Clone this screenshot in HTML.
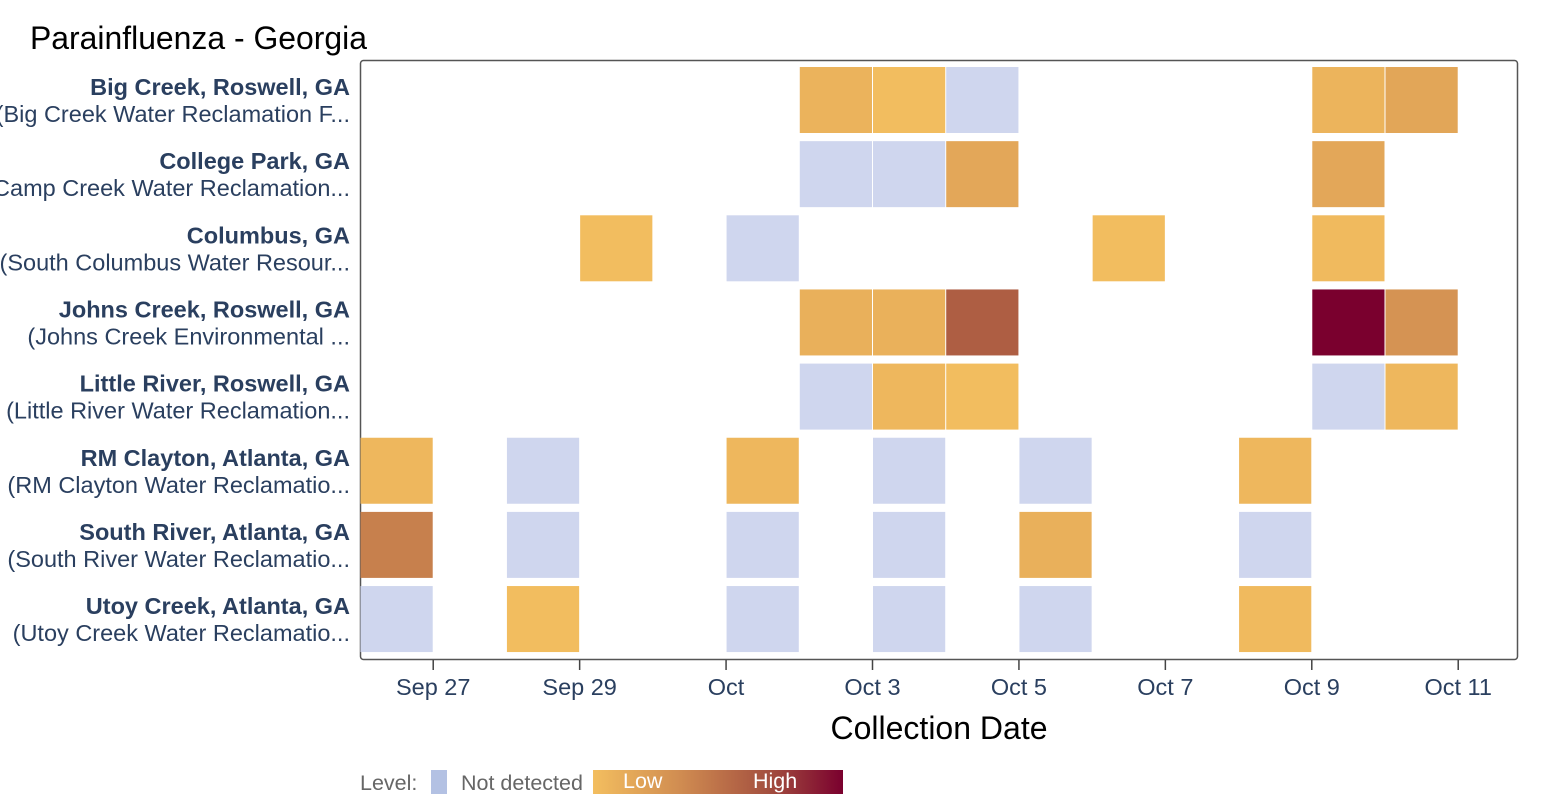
<!DOCTYPE html>
<html><head><meta charset="utf-8"><style>
html,body{margin:0;padding:0;background:#fff;}
svg{display:block;font-family:"Liberation Sans",Arial,sans-serif;}
</style></head><body>
<svg id="chart" width="1558" height="808" viewBox="0 0 1558 808">
<defs><linearGradient id="grad" x1="0" x2="1" y1="0" y2="0">
<stop offset="0" stop-color="#f3be5f"/><stop offset="0.35" stop-color="#d08c51"/><stop offset="0.7" stop-color="#a4503f"/><stop offset="1" stop-color="#7a002e"/></linearGradient></defs>
<text x="30" y="49" font-size="32" fill="#000" textLength="337" lengthAdjust="spacingAndGlyphs">Parainfluenza - Georgia</text>
<g id="rowlabels"></g>
<rect x="360.5" y="60.5" width="1157" height="599" rx="3" fill="#fff" stroke="#555" stroke-width="1.5"/>
<g id="cells"></g>
<g id="xaxis"></g>
<text x="939" y="739" font-size="32" text-anchor="middle" fill="#000">Collection Date</text>
<g>
<text x="360" y="790" font-size="21.5" fill="#666">Level:</text>
<rect x="431" y="770" width="16" height="24" fill="#b3c1e3"/>
<text x="461" y="790" font-size="21.5" fill="#666">Not detected</text>
<rect x="593" y="770" width="250" height="24" fill="url(#grad)"/>
<text x="623" y="788" font-size="21.5" fill="#fff">Low</text>
<text x="753" y="788" font-size="21.5" fill="#fff">High</text>
</g>
</svg>
<script>
const sites = ["Big Creek, Roswell, GA","College Park, GA","Columbus, GA","Johns Creek, Roswell, GA","Little River, Roswell, GA","RM Clayton, Atlanta, GA","South River, Atlanta, GA","Utoy Creek, Atlanta, GA"];
const facilities = ["(Big Creek Water Reclamation F...","(Camp Creek Water Reclamation...","(South Columbus Water Resour...","(Johns Creek Environmental ...","(Little River Water Reclamation...","(RM Clayton Water Reclamatio...","(South River Water Reclamatio...","(Utoy Creek Water Reclamatio..."];
// day offsets from Sep 26 (cell spans day..day+1); value -1 = not detected, 0..1 = level
const cellRow = [0,0,0,0,0, 1,1,1,1, 2,2,2,2, 3,3,3,3,3, 4,4,4,4,4, 5,5,5,5,5,5, 6,6,6,6,6,6, 7,7,7,7,7,7];
const cellDay = [6,7,8,13,14, 6,7,8,13, 3,5,10,13, 6,7,8,13,14, 6,7,8,13,14, 0,2,5,7,9,12, 0,2,5,7,9,12, 0,2,5,7,9,12];
const cellVal = [0.08,0.01,-1,0.07,0.17, -1,-1,0.16,0.16, 0.01,-1,0.01,0.03, 0.1,0.09,0.62,1.0,0.3, -1,0.05,0.01,-1,0.05, 0.05,-1,0.05,-1,-1,0.05, 0.42,-1,-1,-1,0.1,-1, -1,0.01,-1,-1,-1,0.03];
const tickLabels = ["Sep 27","Sep 29","Oct","Oct 3","Oct 5","Oct 7","Oct 9","Oct 11"];
const tickDays = [1,3,5,7,9,11,13,15];

const NS="http://www.w3.org/2000/svg";
const x0=360, dayW=(1458-433)/14, y0=67, rowH=74.15;
const xs = d => x0 + d*dayW;
const ys = r => y0 + r*rowH;
const stops=[[0,[243,190,95]],[0.35,[208,140,81]],[0.7,[164,80,63]],[1,[122,0,46]]];
function color(v){
  if(v<0) return "#cfd6ee";
  for(let i=1;i<stops.length;i++){ if(v<=stops[i][0]){const a=stops[i-1],b=stops[i],t=(v-a[0])/(b[0]-a[0]);
    return "rgb("+a[1].map((c,k)=>Math.round(c+(b[1][k]-c)*t)).join(",")+")";}}
  return "rgb(122,0,46)";
}
const cells=document.getElementById("cells");
for(let i=0;i<cellVal.length;i++){
  const r=document.createElementNS(NS,"rect");
  const xa=xs(cellDay[i]), xb=xs(cellDay[i]+1);
  r.setAttribute("x",xa+0.5); r.setAttribute("width",xb-xa-1);
  r.setAttribute("y",ys(cellRow[i])); r.setAttribute("height",66);
  r.setAttribute("fill",color(cellVal[i]));
  
  
  cells.appendChild(r);
}
const rl=document.getElementById("rowlabels");
for(let i=0;i<sites.length;i++){
  const t=document.createElementNS(NS,"text");
  t.setAttribute("x",350); t.setAttribute("y",ys(i)+28); t.setAttribute("text-anchor","end");
  t.setAttribute("font-size","23.5"); t.setAttribute("font-weight","bold"); t.setAttribute("fill","#2a3f5f");
  t.textContent=sites[i];
  
  
  rl.appendChild(t);
  const s=document.createElementNS(NS,"text");
  s.setAttribute("x",350); s.setAttribute("y",ys(i)+55); s.setAttribute("text-anchor","end");
  s.setAttribute("font-size","23.5"); s.setAttribute("fill","#2a3f5f");
  s.textContent=facilities[i];
  
  
  rl.appendChild(s);
}
const xa=document.getElementById("xaxis");
for(let i=0;i<tickLabels.length;i++){
  const x=xs(tickDays[i]);
  const l=document.createElementNS(NS,"line");
  l.setAttribute("x1",x);l.setAttribute("x2",x);l.setAttribute("y1",660);l.setAttribute("y2",670);
  l.setAttribute("stroke","#444");l.setAttribute("stroke-width","1.5");
  
  
  xa.appendChild(l);
  const t=document.createElementNS(NS,"text");
  t.setAttribute("x",x);t.setAttribute("y",695);t.setAttribute("text-anchor","middle");
  t.setAttribute("font-size","23.5");t.setAttribute("fill","#2a3f5f");
  t.textContent=tickLabels[i];
  
  
  xa.appendChild(t);
}
</script>
</body></html>
